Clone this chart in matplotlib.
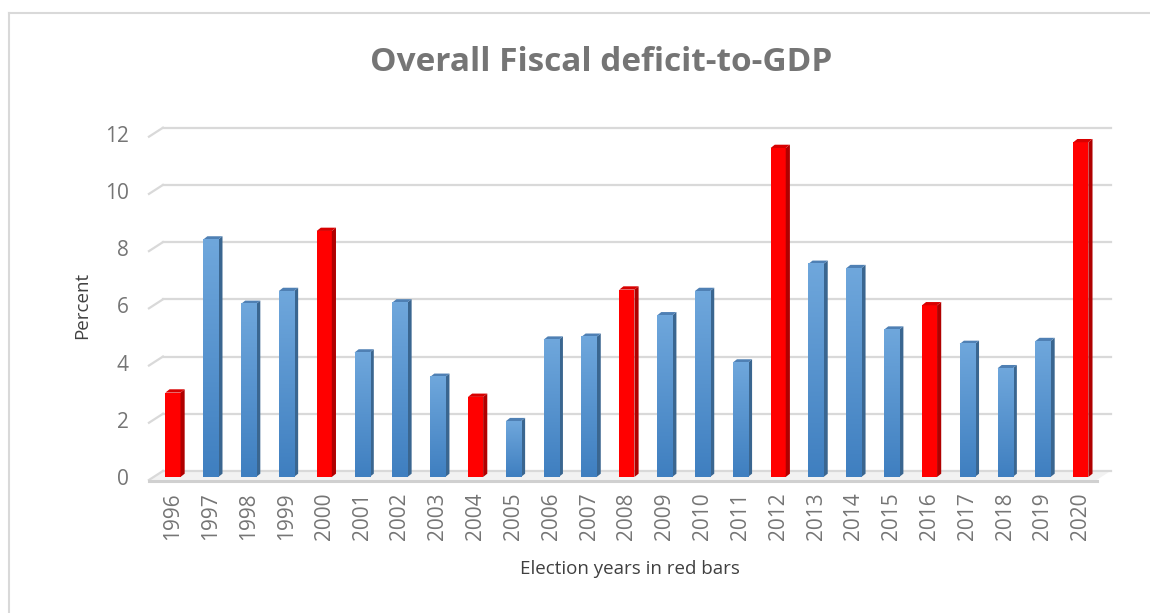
import numpy as np
import matplotlib
matplotlib.use("Agg")
import matplotlib.pyplot as plt
from matplotlib.patches import Polygon

# data
years = [str(y) for y in range(1996, 2021)]
deficit = [2.95, 8.3, 6.05, 6.5, 8.6, 4.35, 6.1, 3.5, 2.8, 1.95, 4.8, 4.9, 6.55,
           5.65, 6.5, 4.0, 11.5, 7.45, 7.3, 5.15, 6.0, 4.65, 3.8, 4.75, 11.7]
election = [1996, 2000, 2004, 2008, 2012, 2016, 2020]

plt.rcParams['font.family'] = ['Open Sans', 'DejaVu Sans']
txt = '#757575'

fig = plt.figure(figsize=(11.5, 6.13), dpi=100)
ax = fig.add_axes([0.1217, 0.2007, 0.852, 0.6036])

# 3d offsets in data units
gdx, gdy = 0.37, 0.315     # back wall shift
fdy = -0.105               # front plane below bar plane
bw, sdx, sdy = 0.4, 0.11, 0.115
xl0, xl1 = -0.634, 24.42   # front left / right of floor
grid_c = '#d9d9d9'

ticks = np.arange(0, 13, 2)
for v in ticks:
    # gridline on back wall plus slanted stub on left wall
    ax.plot([xl0 + gdx, xl1 + gdx], [v + fdy + gdy, v + fdy + gdy], color=grid_c, lw=1.6, zorder=1)
    ax.plot([xl0, xl0 + gdx], [v + fdy, v + fdy + gdy], color=grid_c, lw=1.6, zorder=1)

# floor
ax.add_patch(Polygon([(xl0, fdy), (xl1, fdy), (xl1 + gdx, fdy + gdy), (xl0 + gdx, fdy + gdy)],
                     closed=True, facecolor='#f2f2f2', edgecolor='none', zorder=0.5))
ax.plot([xl0, xl1], [fdy - 0.02, fdy - 0.02], color='#d0d0d0', lw=2.2, zorder=1)

x = np.arange(len(years))
for i, v in enumerate(deficit):
    red = int(years[i]) in election
    front = '#ff0000' if red else '#5b9bd5'
    side = '#b00000' if red else '#3a6690'
    top = '#d80000' if red else '#4f80b4'
    ax.bar(x[i], v, width=bw, color=front, zorder=3)
    r = x[i] + bw / 2
    l = x[i] - bw / 2
    ax.add_patch(Polygon([(r, 0), (r + sdx, sdy), (r + sdx, v + sdy), (r, v)],
                         closed=True, facecolor=side, edgecolor='none', zorder=3))
    ax.add_patch(Polygon([(l, v), (r, v), (r + sdx, v + sdy), (l + sdx, v + sdy)],
                         closed=True, facecolor=top, edgecolor='none', zorder=3))

# blue gradient on front faces
grad = np.linspace(1, 0, 100).reshape(-1, 1)
cmap = matplotlib.colors.LinearSegmentedColormap.from_list('b', ['#3f7fc0', '#6fa7dc'])
for i, v in enumerate(deficit):
    if int(years[i]) not in election:
        ax.imshow(grad, extent=[x[i] - bw / 2, x[i] + bw / 2, 0, v], cmap=cmap,
                  aspect='auto', origin='upper', zorder=3.5)
ax.set_xlim(-0.872, 25.03)
ax.set_ylim(-0.4545, 12.48)

for s in ax.spines.values():
    s.set_visible(False)
ax.set_yticks(ticks)
ax.set_yticklabels([str(t) for t in ticks], fontsize=15, color=txt)
ax.set_xticks(x)
ax.set_xticklabels(years, rotation=90, fontsize=15, color=txt)
ax.tick_params(axis='y', length=0, pad=8)
ax.tick_params(axis='x', length=0, pad=2)

ax.set_ylabel('Percent', fontsize=13.5, color='#404040', labelpad=10)
ax.set_xlabel('Election years in red bars', fontsize=13.5, color='#404040', labelpad=14)
fig.text(0.523, 0.898, 'Overall Fiscal deficit-to-GDP', ha='center', va='center',
         fontsize=24, fontweight='bold', color=txt)

# chart border
fig.add_artist(plt.Line2D([9 / 1150, 9 / 1150], [0, 1 - 13 / 613], color=grid_c, lw=1.5))
fig.add_artist(plt.Line2D([9 / 1150, 1], [1 - 13 / 613, 1 - 13 / 613], color=grid_c, lw=1.5))

fig.savefig('out.png', dpi=100)
